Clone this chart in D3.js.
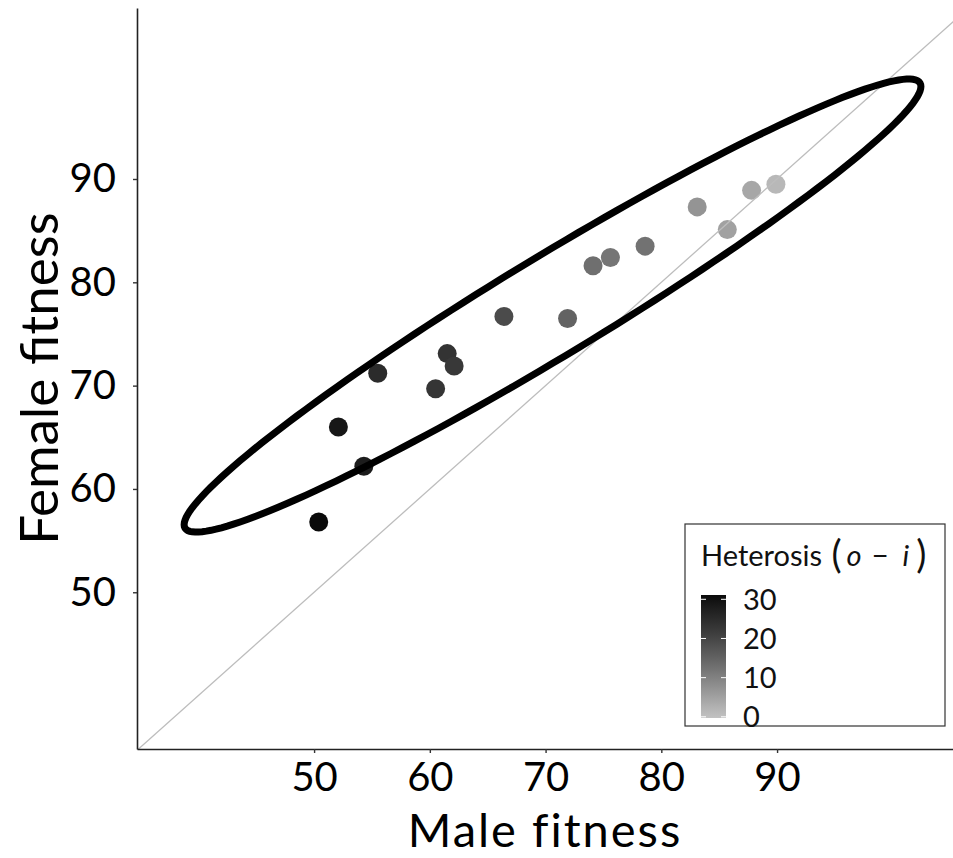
<!DOCTYPE html>
<html>
<head>
<meta charset="utf-8">
<script src="https://cdn.jsdelivr.net/npm/d3@7"></script>
<style>
  body { margin: 0; background: #fff; }
  svg { display: block; font-family: Lato, "Open Sans", sans-serif; }
</style>
</head>
<body>
<svg id="chart"></svg>
<script>
/* CONSTANTS AND GLOBALS */
const width = 953,
  height = 858;

// one entry per cross
const maleFitness = [50.4, 52.1, 54.3, 55.5, 60.5, 61.5, 62.1, 66.4, 71.9, 74.1, 75.6, 78.6, 83.1, 85.7, 87.8, 89.9];
const femaleFitness = [56.8, 66.0, 62.2, 71.2, 69.7, 73.1, 71.9, 76.7, 76.5, 81.6, 82.4, 83.5, 87.3, 85.1, 88.9, 89.5];
const heterosis = [31, 29, 28, 25, 23, 23.5, 22.5, 19, 15, 13, 12, 12.5, 7, 5, 4, 1.5];

const xTicks = [50, 60, 70, 80, 90];
const yTicks = [50, 60, 70, 80, 90];
const legendTicks = [0, 10, 20, 30];

// data limits of the panel
const xLimits = [34.7, 105.2];
const yLimits = [34.83, 106.55];
const heterosisLimits = [-0.3, 31.1];

// confidence ellipse: centre and two conjugate half-axes (data units)
const ellipseCenter = [70.6, 77.75];
const ellipseMajor = [31.75, 21.54];
const ellipseMinor = [2.22, -4.10];

const data = maleFitness.map((m, i) => ({
  male: m,
  female: femaleFitness[i],
  heterosis: heterosis[i]
}));

/* SCALES */
const xScale = d3.scaleLinear().domain(xLimits).range([137, 953]);
const yScale = d3.scaleLinear().domain(yLimits).range([749, 8]);
const colorScale = d3.scaleLinear()
  .domain([0, 31])
  .range(["#c2c2c2", "#0a0a0a"])
  .interpolate(d3.interpolateLab)
  .clamp(true);

const svg = d3.select("#chart")
  .attr("width", width)
  .attr("height", height);

svg.append("rect")
  .attr("width", width)
  .attr("height", height)
  .attr("fill", "#fff");

svg.append("clipPath")
  .attr("id", "panel")
  .append("rect")
  .attr("x", xScale(xLimits[0]))
  .attr("y", yScale(yLimits[1]))
  .attr("width", xScale(xLimits[1]) - xScale(xLimits[0]))
  .attr("height", yScale(yLimits[0]) - yScale(yLimits[1]));

const panel = svg.append("g").attr("clip-path", "url(#panel)");

// points
panel.selectAll("circle.pt")
  .data(data)
  .join("circle")
  .attr("class", "pt")
  .attr("cx", d => xScale(d.male))
  .attr("cy", d => yScale(d.female))
  .attr("r", 9.5)
  .attr("fill", d => colorScale(d.heterosis));

// y = x reference line
const lo = Math.min(xLimits[0], yLimits[0]), hi = Math.max(xLimits[1], yLimits[1]);
panel.append("line")
  .attr("x1", xScale(lo)).attr("y1", yScale(lo))
  .attr("x2", xScale(hi)).attr("y2", yScale(hi))
  .attr("stroke", "#bdbdbd")
  .attr("stroke-width", 1.3);

// ellipse
const ellipsePts = d3.range(0, 361, 2).map(a => {
  const t = a * Math.PI / 180;
  return [
    ellipseCenter[0] + Math.cos(t) * ellipseMajor[0] + Math.sin(t) * ellipseMinor[0],
    ellipseCenter[1] + Math.cos(t) * ellipseMajor[1] + Math.sin(t) * ellipseMinor[1]
  ];
});
const lineGen = d3.line()
  .x(d => xScale(d[0]))
  .y(d => yScale(d[1]))
  .curve(d3.curveLinearClosed);

panel.append("path")
  .attr("d", lineGen(ellipsePts))
  .attr("fill", "none")
  .attr("stroke", "#000")
  .attr("stroke-width", 7);

/* AXES */
const xAxis = svg.append("g")
  .attr("transform", `translate(0, ${yScale(yLimits[0])})`)
  .call(d3.axisBottom(xScale).tickValues(xTicks).tickSize(4).tickSizeOuter(0).tickPadding(9.5));

const yAxis = svg.append("g")
  .attr("transform", `translate(${xScale(xLimits[0])}, 0)`)
  .call(d3.axisLeft(yScale).tickValues(yTicks).tickSize(4).tickSizeOuter(0).tickPadding(17));

[xAxis, yAxis].forEach(g => {
  g.select(".domain").attr("stroke", "#222").attr("stroke-width", 1.6);
  g.selectAll(".tick line").attr("stroke", "#333").attr("stroke-width", 1.4);
  g.selectAll(".tick text")
    .attr("fill", "#000")
    .style("font-family", "Lato, sans-serif")
    .style("font-size", "40px");
});

// axis titles
svg.append("text")
  .attr("x", (xScale(xLimits[0]) + xScale(xLimits[1])) / 2)
  .attr("y", 847)
  .attr("text-anchor", "middle")
  .style("font-size", "47px")
  .style("letter-spacing", "2px")
  .text("Male fitness");

svg.append("text")
  .attr("transform", `translate(58, ${(yScale(yLimits[0]) + yScale(yLimits[1])) / 2}) rotate(-90)`)
  .attr("text-anchor", "middle")
  .style("font-size", "53px")
  .text("Female fitness");

/* LEGEND */
const legend = svg.append("g");

legend.append("rect")
  .attr("x", 685).attr("y", 524)
  .attr("width", 260).attr("height", 202)
  .attr("fill", "#fff")
  .attr("stroke", "#333")
  .attr("stroke-width", 1.2);

const title = legend.append("text")
  .attr("x", 701).attr("y", 566)
  .style("font-size", "29px")
  .attr("fill", "#111")
  .attr("xml:space", "preserve");
title.append("tspan").text("Heterosis ");
title.append("tspan").style("font-size", "38px").attr("dy", 2).attr("dx", 2).text("(");
title.append("tspan").style("font-style", "italic").attr("dy", -2).attr("dx", 5).text("o");
title.append("tspan").attr("dx", 10).text("\u2212");
title.append("tspan").style("font-style", "italic").attr("dx", 14).text("i");
title.append("tspan").style("font-size", "38px").attr("dy", 2).attr("dx", 7).text(")");

const legendScale = d3.scaleLinear().domain(heterosisLimits).range([718, 595]);

const grad = svg.append("defs").append("linearGradient")
  .attr("id", "hetGrad")
  .attr("x1", 0).attr("y1", 1).attr("x2", 0).attr("y2", 0);
d3.range(0, 1.0001, 0.1).forEach(f => {
  const v = heterosisLimits[0] + f * (heterosisLimits[1] - heterosisLimits[0]);
  grad.append("stop").attr("offset", f).attr("stop-color", colorScale(v));
});

legend.append("rect")
  .attr("x", 701).attr("y", legendScale(heterosisLimits[1]))
  .attr("width", 25)
  .attr("height", legendScale(heterosisLimits[0]) - legendScale(heterosisLimits[1]))
  .attr("fill", "url(#hetGrad)");

legend.selectAll("line.lt")
  .data(legendTicks.flatMap(v => [[v, 701], [v, 721]]))
  .join("line")
  .attr("class", "lt")
  .attr("x1", d => d[1]).attr("x2", d => d[1] + 5)
  .attr("y1", d => legendScale(d[0])).attr("y2", d => legendScale(d[0]))
  .attr("stroke", "#fff")
  .attr("stroke-width", 1);

legend.selectAll("text.ll")
  .data(legendTicks)
  .join("text")
  .attr("class", "ll")
  .attr("x", 743)
  .attr("y", d => legendScale(d))
  .attr("dy", "0.36em")
  .style("font-size", "29px")
  .attr("fill", "#111")
  .text(d => d);
</script>
</body>
</html>
